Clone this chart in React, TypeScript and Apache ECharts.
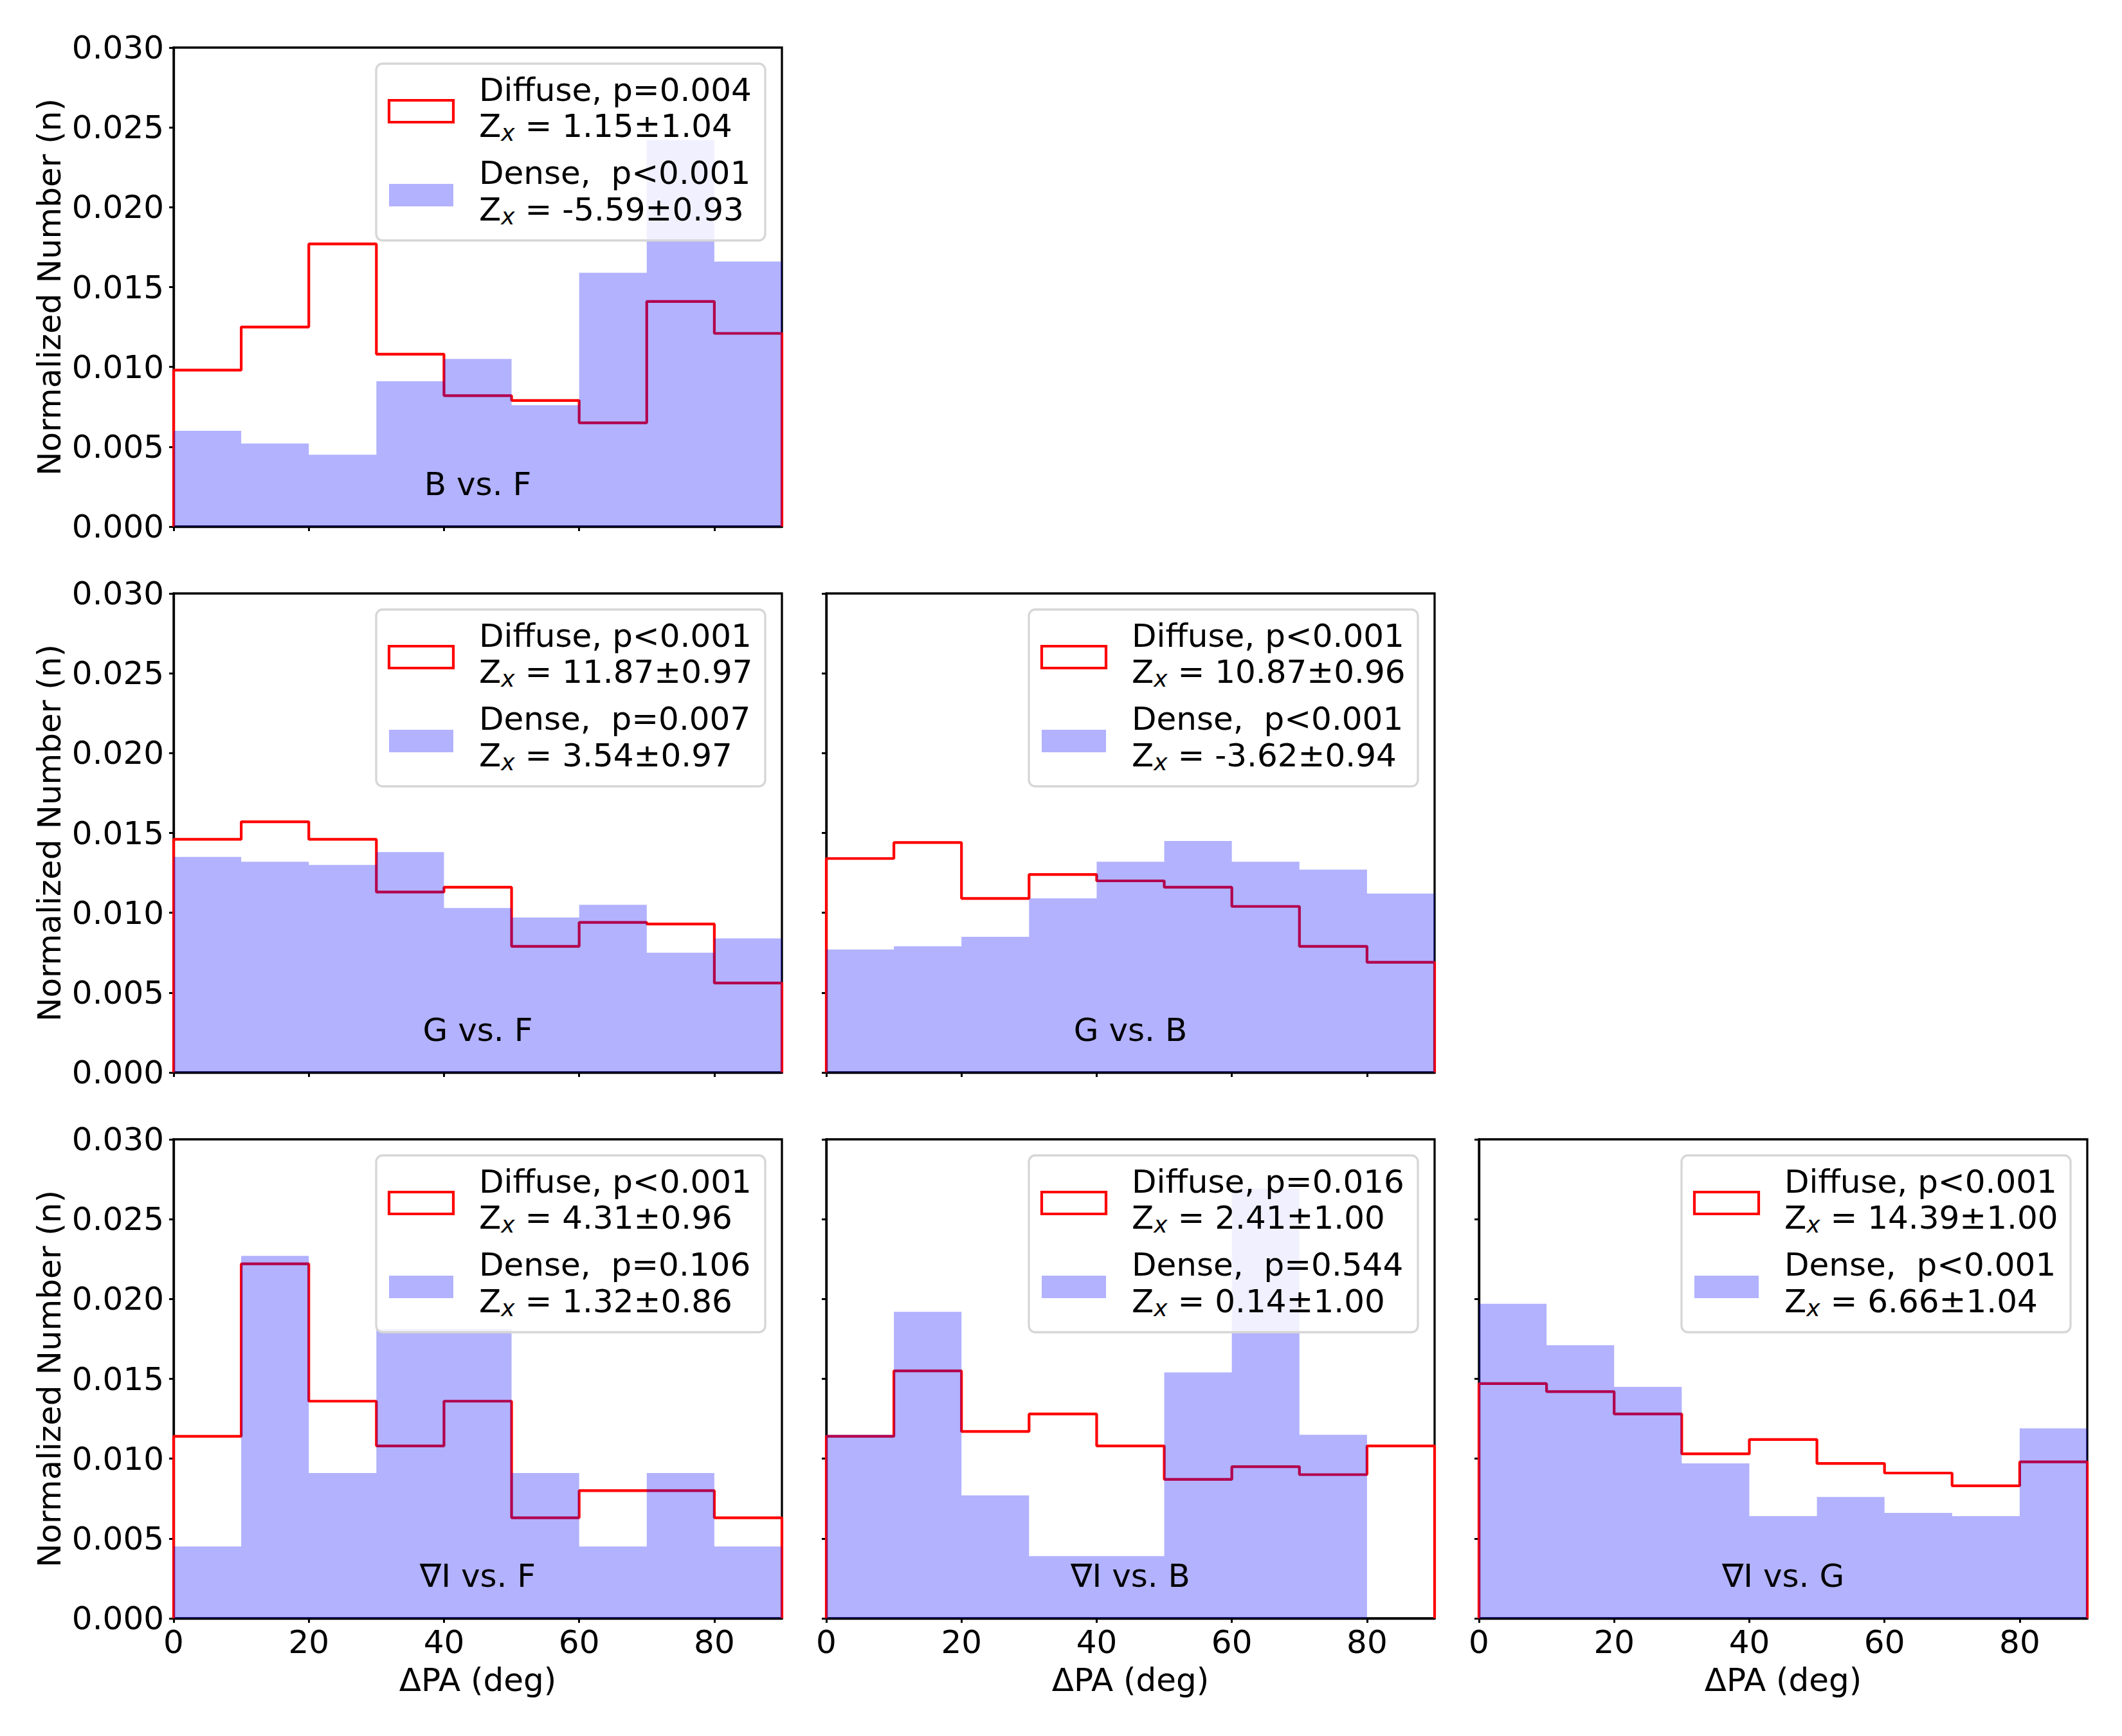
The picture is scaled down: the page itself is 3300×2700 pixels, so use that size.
import React, { useEffect, useRef } from "react";
import * as echarts from "echarts";

// ---- data ----
const binEdges = [0, 10, 20, 30, 40, 50, 60, 70, 80, 90];
const xTicks = [0, 20, 40, 60, 80];
const yTicks = [0, 0.005, 0.01, 0.015, 0.02, 0.025, 0.03];

const panelNames = ["B vs. F", "G vs. F", "G vs. B", "\u2207I vs. F", "\u2207I vs. B", "\u2207I vs. G"];

const diffuseBF = [0.0098, 0.0125, 0.0177, 0.0108, 0.0082, 0.0079, 0.0065, 0.0141, 0.0121];
const denseBF = [0.006, 0.0052, 0.0045, 0.0091, 0.0105, 0.0076, 0.0159, 0.0242, 0.0166];
const diffuseGF = [0.0146, 0.0157, 0.0146, 0.0113, 0.0116, 0.0079, 0.0094, 0.0093, 0.0056];
const denseGF = [0.0135, 0.0132, 0.013, 0.0138, 0.0103, 0.0097, 0.0105, 0.0075, 0.0084];
const diffuseGB = [0.0134, 0.0144, 0.0109, 0.0124, 0.012, 0.0116, 0.0104, 0.0079, 0.0069];
const denseGB = [0.0077, 0.0079, 0.0085, 0.0109, 0.0132, 0.0145, 0.0132, 0.0127, 0.0112];
const diffuseIF = [0.0114, 0.0222, 0.0136, 0.0108, 0.0136, 0.0063, 0.008, 0.008, 0.0063];
const denseIF = [0.0045, 0.0227, 0.0091, 0.0181, 0.0181, 0.0091, 0.0045, 0.0091, 0.0045];
const diffuseIB = [0.0114, 0.0155, 0.0117, 0.0128, 0.0108, 0.0087, 0.0095, 0.009, 0.0108];
const denseIB = [0.0115, 0.0192, 0.0077, 0.0039, 0.0039, 0.0154, 0.0269, 0.0115, 0];
const diffuseIG = [0.0147, 0.0142, 0.0128, 0.0103, 0.0112, 0.0097, 0.0091, 0.0083, 0.0098];
const denseIG = [0.0197, 0.0171, 0.0145, 0.0097, 0.0064, 0.0076, 0.0066, 0.0064, 0.0119];

const diffuseSets = [diffuseBF, diffuseGF, diffuseGB, diffuseIF, diffuseIB, diffuseIG];
const denseSets = [denseBF, denseGF, denseGB, denseIF, denseIB, denseIG];

const diffuseP = ["p=0.004", "p<0.001", "p<0.001", "p<0.001", "p=0.016", "p<0.001"];
const diffuseZ = ["1.15\u00b11.04", "11.87\u00b10.97", "10.87\u00b10.96", "4.31\u00b10.96", "2.41\u00b11.00", "14.39\u00b11.00"];
const denseP = ["p<0.001", "p=0.007", "p<0.001", "p=0.106", "p=0.544", "p<0.001"];
const denseZ = ["-5.59\u00b10.93", "3.54\u00b10.97", "-3.62\u00b10.94", "1.32\u00b10.86", "0.14\u00b11.00", "6.66\u00b11.04"];

const xName = "\u0394PA (deg)";
const yName = "Normalized Number (n)";

// ---- layout ----
const panelPos = [
  [0, 0],
  [1, 0],
  [1, 1],
  [2, 0],
  [2, 1],
  [2, 2],
];
const COL_LEFT = [270, 1285, 2300];
const ROW_TOP = [74, 923, 1772];
const GW = 946;
const GH = 745;
const FONT = "DejaVu Sans";
const FS = 50;

function stepPoints(vals: number[]) {
  const pts: number[][] = [[binEdges[0], 0]];
  vals.forEach((v, i) => pts.push([binEdges[i], v]));
  const last = binEdges[binEdges.length - 1];
  pts.push([last, vals[vals.length - 1]]);
  pts.push([last, 0]);
  return pts;
}

function buildOption() {
  const grid: any[] = [];
  const xAxis: any[] = [];
  const yAxis: any[] = [];
  const series: any[] = [];
  const elements: any[] = [];

  panelPos.forEach(([r, c], i) => {
    const left = COL_LEFT[c];
    const top = ROW_TOP[r];
    grid.push({
      left,
      top,
      width: GW,
      height: GH,
      show: true,
      borderColor: "#000",
      borderWidth: 3.3,
      backgroundColor: "transparent",
      containLabel: false,
    });
    xAxis.push({
      type: "value",
      gridIndex: i,
      min: 0,
      max: 90,
      interval: 20,
      splitLine: { show: false },
      axisLine: { show: true, lineStyle: { color: "#000", width: 3.3 } },
      axisTick: { show: true, length: 7, lineStyle: { color: "#000", width: 3 }, customValues: xTicks },
      axisLabel: {
        show: r === 2,
        customValues: xTicks,
        fontSize: FS,
        fontFamily: FONT,
        color: "#000",
        margin: 12,
      },
    });
    yAxis.push({
      type: "value",
      gridIndex: i,
      min: 0,
      max: 0.03,
      interval: 0.005,
      splitLine: { show: false },
      axisLine: { show: true, lineStyle: { color: "#000", width: 3.3 } },
      axisTick: { show: true, length: 7, lineStyle: { color: "#000", width: 3 }, customValues: yTicks },
      axisLabel: {
        show: c === 0,
        customValues: yTicks,
        fontSize: FS,
        fontFamily: FONT,
        color: "#000",
        margin: 15,
        formatter: (v: number) => v.toFixed(3),
      },
    });
    series.push({
      type: "line",
      name: "Diffuse",
      xAxisIndex: i,
      yAxisIndex: i,
      data: stepPoints(diffuseSets[i]),
      step: "end",
      showSymbol: false,
      symbol: "none",
      clip: false,
      silent: true,
      lineStyle: { color: "#ff0000", width: 4.2 },
      z: 2,
    });
    series.push({
      type: "line",
      name: "Dense",
      xAxisIndex: i,
      yAxisIndex: i,
      data: stepPoints(denseSets[i]),
      step: "end",
      showSymbol: false,
      symbol: "none",
      silent: true,
      lineStyle: { width: 0, opacity: 0 },
      areaStyle: { color: "rgba(0,0,255,0.3)", opacity: 1 },
      z: 3,
    });

    // panel annotation
    elements.push({
      type: "text",
      x: left + GW / 2,
      y: top + GH - 66,
      z: 50,
      silent: true,
      style: { text: panelNames[i], fontSize: FS, fontFamily: FONT, fill: "#000", align: "center", verticalAlign: "middle" },
    });

    // legend
    const LW = 605;
    const LH = 275;
    const L = left + GW - 26 - LW;
    const T = top + 25;
    elements.push({
      type: "rect",
      z: 60,
      silent: true,
      shape: { x: L, y: T, width: LW, height: LH, r: 10 },
      style: { fill: "rgba(255,255,255,0.8)", stroke: "#d6d6d6", lineWidth: 3.3 },
    });
    elements.push({
      type: "rect",
      z: 61,
      silent: true,
      shape: { x: L + 20, y: T + 57, width: 100, height: 34 },
      style: { fill: "none", stroke: "#ff0000", lineWidth: 4.2 },
    });
    elements.push({
      type: "rect",
      z: 61,
      silent: true,
      shape: { x: L + 20, y: T + 187, width: 100, height: 35 },
      style: { fill: "rgba(0,0,255,0.3)" },
    });
    const rich = {
      s: { fontSize: 36, fontFamily: FONT, fontStyle: "italic", fill: "#000", verticalAlign: "bottom", lineHeight: 33 },
    };
    const lines = [
      `Diffuse, ${diffuseP[i]}`,
      `Z{s|x} = ${diffuseZ[i]}`,
      `Dense,  ${denseP[i]}`,
      `Z{s|x} = ${denseZ[i]}`,
    ];
    const offs = [41, 97, 170, 227];
    lines.forEach((t, k) => {
      elements.push({
        type: "text",
        x: L + 160,
        y: T + offs[k],
        z: 62,
        silent: true,
        style: {
          text: t,
          fontSize: FS,
          fontFamily: FONT,
          fill: "#000",
          align: "left",
          verticalAlign: "middle",
          lineHeight: 56,
          rich,
        },
      });
    });

    // axis names
    if (c === 0) {
      elements.push({
        type: "text",
        x: 77,
        y: top + GH / 2,
        rotation: Math.PI / 2,
        z: 50,
        silent: true,
        style: { text: yName, fontSize: FS, fontFamily: FONT, fill: "#000", align: "center", verticalAlign: "middle" },
      });
    }
    if (r === 2) {
      elements.push({
        type: "text",
        x: left + GW / 2,
        y: 2613,
        z: 50,
        silent: true,
        style: { text: xName, fontSize: FS, fontFamily: FONT, fill: "#000", align: "center", verticalAlign: "middle" },
      });
    }
  });

  return {
    animation: false,
    backgroundColor: "#ffffff",
    grid,
    xAxis,
    yAxis,
    series,
    graphic: { elements },
  };
}

export default function App() {
  const ref = useRef<HTMLDivElement>(null);
  useEffect(() => {
    if (!ref.current) return;
    const chart = echarts.init(ref.current, undefined, { renderer: "svg" });
    chart.setOption(buildOption() as any);
    return () => chart.dispose();
  }, []);
  return (
    <div
      ref={ref}
      style={{ position: "absolute", left: 0, top: 0, width: 3300, height: 2700, background: "#fff" }}
    />
  );
}
